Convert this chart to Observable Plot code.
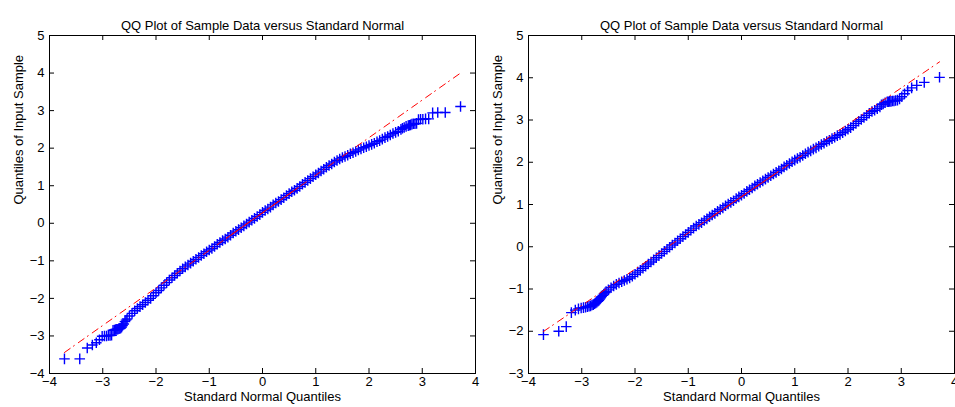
<!DOCTYPE html>
<html><head><meta charset="utf-8">
<script src="https://cdn.jsdelivr.net/npm/d3@7"></script>
<script src="https://cdn.jsdelivr.net/npm/@observablehq/plot@0.6"></script>
<style>
body{margin:0;background:#fff;}
#wrap{position:relative;width:955px;height:407px;overflow:hidden;background:#fff;}
#wrap svg{position:absolute;top:0;overflow:visible;}
</style></head><body><div id="wrap"></div>
<script>
const xTicks = [-4,-3,-2,-1,0,1,2,3,4];
const leftYTicks = [-4,-3,-2,-1,0,1,2,3,4,5];
const rightYTicks = [-3,-2,-1,0,1,2,3,4,5];
const titleText = "QQ Plot of Sample Data versus Standard Normal";
const xLabel = "Standard Normal Quantiles";
const yLabel = "Quantiles of Input Sample";

const leftX = [-3.719,-3.432,-3.291,-3.195,-3.121,-3.062,-3.011,-2.968,-2.929,-2.894,-2.863,-2.834,-2.807,-2.782,-2.759,-2.737,-2.717,-2.697,-2.679,-2.661,-2.644,-2.628,-2.605,-2.583,-2.563,-2.543,
-2.50,-2.45,-2.40,-2.35,-2.30,-2.25,-2.20,-2.15,-2.10,-2.05,-2.00,-1.95,-1.90,-1.85,-1.80,-1.75,-1.70,-1.65,-1.60,-1.55,-1.50,-1.45,-1.40,-1.35,-1.30,-1.25,-1.20,-1.15,-1.10,-1.05,-1.00,-0.95,-0.90,-0.85,-0.80,-0.75,-0.70,-0.65,-0.60,-0.55,-0.50,-0.45,-0.40,-0.35,-0.30,-0.25,-0.20,-0.15,-0.10,-0.05,0,0.05,0.10,0.15,0.20,0.25,0.30,0.35,0.40,0.45,0.50,0.55,0.60,0.65,0.70,0.75,0.80,0.85,0.90,0.95,1.00,1.05,1.10,1.15,1.20,1.25,1.30,1.35,1.40,1.45,1.50,1.55,1.60,1.65,1.70,1.75,1.80,1.85,1.90,1.95,2.00,2.05,2.10,2.15,2.20,2.25,2.30,2.35,2.40,2.45,2.50,2.55,2.60,
2.628,2.661,2.697,2.737,2.759,2.782,2.807,2.834,2.863,2.894,2.929,2.968,3.011,3.062,3.121,3.195,3.291,3.432,3.719];
const leftY = [-3.61,-3.61,-3.32,-3.24,-3.18,-3.10,-3.01,-3.00,-3.00,-2.99,-2.99,-2.98,-2.85,-2.84,-2.83,-2.82,-2.82,-2.81,-2.80,-2.79,-2.76,-2.72,-2.68,-2.62,-2.58,-2.55,
-2.47,-2.40,-2.33,-2.27,-2.22,-2.17,-2.11,-2.05,-2.00,-1.93,-1.85,-1.79,-1.72,-1.65,-1.58,-1.51,-1.45,-1.39,-1.33,-1.27,-1.21,-1.16,-1.11,-1.06,-1.01,-0.96,-0.91,-0.86,-0.81,-0.76,-0.71,-0.67,-0.62,-0.56,-0.51,-0.46,-0.42,-0.37,-0.32,-0.26,-0.21,-0.17,-0.12,-0.07,-0.02,0.03,0.08,0.13,0.18,0.23,0.29,0.34,0.38,0.43,0.49,0.54,0.58,0.63,0.68,0.74,0.79,0.84,0.88,0.93,0.98,1.04,1.09,1.14,1.19,1.24,1.29,1.34,1.39,1.44,1.49,1.54,1.58,1.63,1.67,1.71,1.75,1.78,1.81,1.85,1.88,1.91,1.95,1.98,2.01,2.04,2.07,2.10,2.13,2.17,2.20,2.24,2.28,2.31,2.35,2.39,2.42,2.45,2.50,
2.53,2.55,2.58,2.60,2.61,2.62,2.64,2.65,2.65,2.66,2.76,2.77,2.77,2.78,2.78,2.94,2.95,2.95,3.11];

const rightX = [-3.719,-3.432,-3.291,-3.195,-3.121,-3.062,-3.011,-2.968,-2.929,-2.894,-2.863,-2.834,-2.807,-2.782,-2.759,-2.737,-2.717,-2.697,-2.679,-2.661,-2.644,-2.628,-2.605,-2.583,-2.563,-2.543,
-2.50,-2.45,-2.40,-2.35,-2.30,-2.25,-2.20,-2.15,-2.10,-2.05,-2.00,-1.95,-1.90,-1.85,-1.80,-1.75,-1.70,-1.65,-1.60,-1.55,-1.50,-1.45,-1.40,-1.35,-1.30,-1.25,-1.20,-1.15,-1.10,-1.05,-1.00,-0.95,-0.90,-0.85,-0.80,-0.75,-0.70,-0.65,-0.60,-0.55,-0.50,-0.45,-0.40,-0.35,-0.30,-0.25,-0.20,-0.15,-0.10,-0.05,0,0.05,0.10,0.15,0.20,0.25,0.30,0.35,0.40,0.45,0.50,0.55,0.60,0.65,0.70,0.75,0.80,0.85,0.90,0.95,1.00,1.05,1.10,1.15,1.20,1.25,1.30,1.35,1.40,1.45,1.50,1.55,1.60,1.65,1.70,1.75,1.80,1.85,1.90,1.95,2.00,2.05,2.10,2.15,2.20,2.25,2.30,2.35,2.40,2.45,2.50,2.55,2.60,
2.628,2.661,2.697,2.737,2.759,2.782,2.807,2.834,2.863,2.894,2.929,2.968,3.011,3.062,3.121,3.195,3.291,3.432,3.719];
const rightY = [-2.08,-2.00,-1.89,-1.56,-1.50,-1.47,-1.45,-1.44,-1.43,-1.42,-1.41,-1.40,-1.38,-1.37,-1.35,-1.33,-1.31,-1.29,-1.27,-1.24,-1.21,-1.18,-1.15,-1.12,-1.09,-1.06,
-1.02,-0.97,-0.93,-0.89,-0.86,-0.83,-0.80,-0.77,-0.74,-0.70,-0.65,-0.60,-0.56,-0.51,-0.46,-0.41,-0.36,-0.31,-0.26,-0.21,-0.16,-0.11,-0.06,-0.01,0.04,0.09,0.14,0.19,0.24,0.29,0.34,0.39,0.44,0.49,0.53,0.57,0.62,0.66,0.71,0.75,0.79,0.84,0.88,0.92,0.97,1.01,1.05,1.09,1.14,1.18,1.22,1.26,1.31,1.35,1.39,1.44,1.48,1.52,1.56,1.60,1.64,1.68,1.72,1.76,1.80,1.84,1.89,1.93,1.97,2.01,2.05,2.09,2.12,2.16,2.20,2.24,2.27,2.31,2.34,2.38,2.42,2.45,2.49,2.52,2.56,2.59,2.63,2.66,2.70,2.74,2.78,2.82,2.87,2.92,2.97,3.01,3.06,3.11,3.16,3.20,3.23,3.27,3.31,
3.36,3.38,3.41,3.43,3.43,3.44,3.44,3.45,3.45,3.46,3.47,3.50,3.55,3.62,3.70,3.76,3.82,3.89,4.01];

const leftRefX = [-3.719, 3.719], leftRefY = [-3.44, 4.00];
const leftQuartX = [-0.674, 0.674], leftQuartY = [-0.394, 0.954];
const rightRefX = [-3.719, 3.719], rightRefY = [-2.005, 4.376];
const rightQuartX = [-0.674, 0.674], rightQuartY = [0.607, 1.763];

const fmt = d => d < 0 ? "\u2212" + Math.abs(d) : String(d);
const zip = (a, b) => a.map((x, i) => ({x, y: b[i]}));

function panel({px, py, refX, refY, qX, qY, yTicks, yDomain, marginLeft, marginRight, width}) {
  const H = 407, mt = 35, mb = 34;
  const fh = H - mt - mb, fw = width - marginLeft - marginRight;
  return Plot.plot({
    width, height: H, marginLeft, marginRight, marginTop: mt, marginBottom: mb,
    x: {domain: [-4, 4], axis: null},
    y: {domain: yDomain, axis: null},
    style: {fontFamily: "'Liberation Sans', Arial, Helvetica, sans-serif", fontSize: "13px", background: "transparent", color: "black", overflow: "visible"},
    marks: [
      Plot.dot(zip(px, py), {x: "x", y: "y", symbol: "plus", r: 3.5, stroke: "#0000ff", strokeWidth: 1.4}),
      Plot.line(zip(qX, qY), {x: "x", y: "y", stroke: "#ff0000", strokeWidth: 1}),
      Plot.line(zip(refX, refY), {x: "x", y: "y", stroke: "#ff0000", strokeWidth: 1, strokeDasharray: "7,4,1,5"}),
      Plot.frame({stroke: "black"}),
      Plot.tickX(xTicks, {x: d => d, insetTop: fh - 5, stroke: "black"}),
      Plot.tickX(xTicks, {x: d => d, insetBottom: fh - 5, stroke: "black"}),
      Plot.tickY(yTicks, {y: d => d, insetRight: fw - 5, stroke: "black"}),
      Plot.tickY(yTicks, {y: d => d, insetLeft: fw - 5, stroke: "black"}),
      Plot.text(xTicks, {x: d => d, text: fmt, frameAnchor: "bottom", dy: 12}),
      Plot.text(yTicks, {y: d => d, text: fmt, frameAnchor: "left", dx: -5, textAnchor: "end"}),
      Plot.text([xLabel], {text: d => d, frameAnchor: "bottom", dy: 27}),
      Plot.text([yLabel], {text: d => d, frameAnchor: "left", dx: -31, rotate: -90}),
      Plot.text([titleText], {text: d => d, frameAnchor: "top", dy: -15})
    ]
  });
}

const wrap = document.getElementById("wrap");
const left = panel({px: leftX, py: leftY, refX: leftRefX, refY: leftRefY, qX: leftQuartX, qY: leftQuartY,
  yTicks: leftYTicks, yDomain: [-4, 5], marginLeft: 49, marginRight: 2, width: 477});
left.style.left = "0px";
const right = panel({px: rightX, py: rightY, refX: rightRefX, refY: rightRefY, qX: rightQuartX, qY: rightQuartY,
  yTicks: rightYTicks, yDomain: [-3, 5], marginLeft: 51, marginRight: 1, width: 478});
right.style.left = "477px";
wrap.appendChild(left);
wrap.appendChild(right);
</script></body></html>
